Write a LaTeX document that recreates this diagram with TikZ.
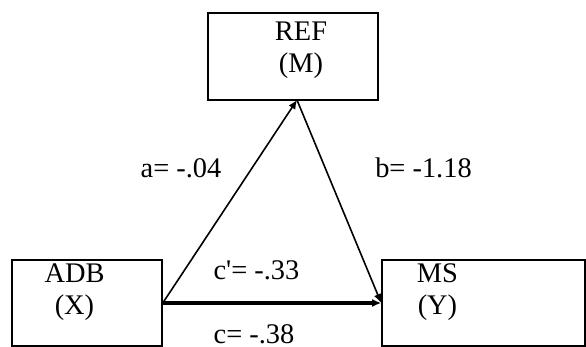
\documentclass[tikz,border=0pt]{standalone}
\usepackage{fontspec}
\setmainfont{Liberation Serif}[Ligatures=TeXOff]
\usetikzlibrary{arrows.meta}

\begin{document}
\begin{tikzpicture}[x=0.5pt, y=-0.5pt,
		caja/.style={draw, line width=0.8pt, rectangle, inner sep=0pt},
		texto/.style={font=\fontsize{14.2}{16}\selectfont, align=center, inner sep=0pt},
		flecha/.style={line width=0.8pt, -{Latex[length=4.5pt, width=4pt]}}]
			\useasboundingbox (0,0) rectangle (586,347);

			% Cajas
			\node[caja, minimum width=85pt, minimum height=43.5pt] (ref) at (293,56.5) {};
			\node[caja, minimum width=75pt, minimum height=43pt] (adb) at (87,303) {};
			\node[caja, minimum width=101.5pt, minimum height=43pt] (ms) at (483.5,303) {};

			% Textos de las cajas
			\node[texto] (reft) at (301,50) {REF\\(M)};
			\node[texto] (adbt) at (74.5,292) {ADB\\(X)};
			\node[texto] (mst) at (437.5,292) {MS\\(Y)};

			% Flechas
			\coordinate (vertice) at (297,100);
			\draw[flecha] (adb.east) -- (vertice);
			\draw[flecha] (vertice) -- (ms.west);
			\draw[flecha, line width=1.6pt] (adb.east) -- (ms.west);

			% Coeficientes
			\node[texto] (a) at (181,168) {a= -.04};
			\node[texto] (b) at (423.5,168) {b= -1.18};
			\node[texto] (cp) at (256.5,270) {c'= -.33};
			\node[texto] (c) at (254,334) {c= -.38};

		\end{tikzpicture}
\end{document}
